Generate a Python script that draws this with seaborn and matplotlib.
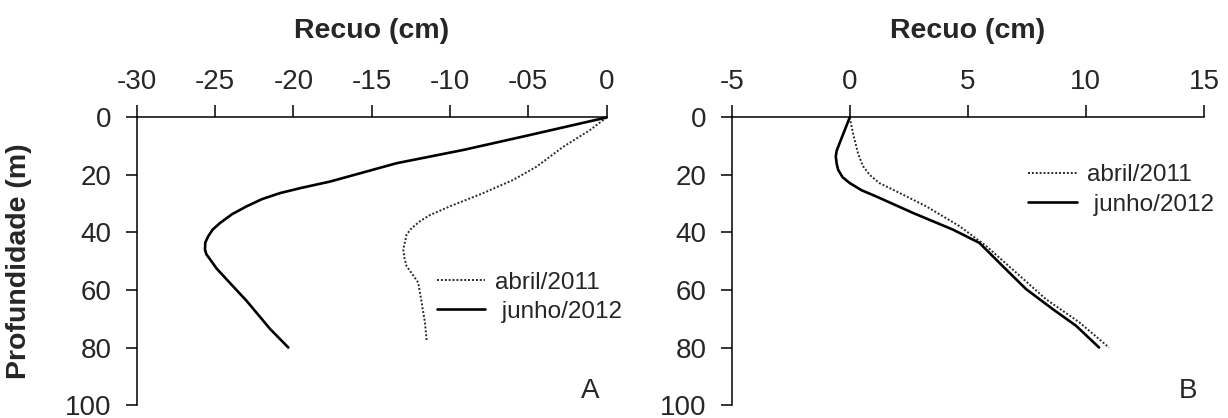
import matplotlib
matplotlib.use("Agg")
import matplotlib.pyplot as plt
import seaborn as sns
import pandas as pd

# Panel A: recuo (cm) versus profundidade (m)
a_abril_recuo = [0, -1.07, -2.77, -4.47, -5.96, -7.88, -10.0, -11.3, -11.92, -12.45,
                 -12.77, -12.98, -12.9, -12.77, -12.4, -12.03, -11.81, -11.6, -11.49]
a_abril_prof = [0, 4.4, 10.2, 17.1, 21.7, 26.3, 30.9, 34.0, 36.1, 38.5,
                40.7, 45.9, 49.0, 51.7, 54.5, 57.4, 64.3, 71.2, 77.6]
a_junho_recuo = [0, -4.9, -9.15, -13.4, -17.66, -19.5, -20.85, -22.0, -22.98, -23.9,
                 -24.68, -25.15, -25.43, -25.62, -25.64, -25.55, -25.32, -24.9,
                 -24.26, -22.98, -21.49, -20.32]
a_junho_prof = [0, 6.1, 11.3, 15.9, 22.3, 24.5, 26.3, 28.4, 30.9, 33.6,
                36.7, 39.0, 41.3, 43.5, 45.9, 47.6, 49.3, 52.5,
                56.3, 63.8, 73.5, 80.0]

# Panel B
b_abril_recuo = [0, 0.14, 0.35, 0.55, 0.85, 1.25, 1.83, 3.24, 4.65, 5.78, 7.04,
                 8.31, 9.72, 10.98]
b_abril_prof = [0, 5.5, 12.4, 16.8, 20.0, 22.8, 25.1, 30.9, 37.8, 44.7, 53.9,
                63.2, 71.2, 80.0]
b_junho_recuo = [0, -0.35, -0.55, -0.59, -0.55, -0.49, -0.3, 0, 0.5, 1.13, 2.68,
                 4.37, 5.49, 6.48, 7.47, 8.59, 9.58, 10.56]
b_junho_prof = [0, 7.3, 11.5, 13.6, 16.2, 18.2, 20.8, 22.8, 25.3, 27.5, 33.2,
                39.0, 43.6, 51.7, 59.7, 66.6, 72.4, 80.0]

series_labels = ["abril/2011", " junho/2012"]
a_xticks = [-30, -25, -20, -15, -10, -5, 0]
a_xticklabels = ["-30", "-25", "-20", "-15", "-10", "-05", "0"]
b_xticks = [-5, 0, 5, 10, 15]
b_xticklabels = ["-5", "0", "5", "10", "15"]
yticks = [0, 20, 40, 60, 80, 100]
panel_letters = ["A", "B"]

sns.set_style("white")
plt.rcParams["font.family"] = ["Liberation Sans", "DejaVu Sans"]

fig = plt.figure(figsize=(12.28, 4.18), dpi=100)
ax_bottom = 0.031
ax_height = 0.688
ax_a = fig.add_axes([0.1113, ax_bottom, 0.3827, ax_height])
ax_b = fig.add_axes([0.5958, ax_bottom, 0.3846, ax_height])

styles = [dict(color="#2a2a2a", lw=1.4, ls=(0, (1, 1))),
          dict(color="black", lw=1.9, ls="-")]


def draw(ax, curves, xticks, xticklabels, letter, leg_anchor):
    for (xs, ys), lab, st in zip(curves, series_labels, styles):
        df = pd.DataFrame({"recuo": xs, "prof": ys})
        sns.lineplot(data=df, x="recuo", y="prof", ax=ax, sort=False,
                     estimator=None, color=st["color"], linewidth=st["lw"],
                     linestyle=st["ls"], label=lab, clip_on=False)
    ax.set_xlim(xticks[0], xticks[-1])
    ax.set_ylim(100, 0)
    ax.xaxis.tick_top()
    ax.set_xticks(xticks)
    ax.set_xticklabels(xticklabels)
    ax.set_yticks(yticks)
    ax.set_yticklabels([str(v) for v in yticks])
    ax.tick_params(axis="x", direction="out", length=8.5, width=1.1,
                   pad=8, labelsize=20, color="black", top=True, bottom=False)
    ax.tick_params(axis="y", direction="out", length=8, width=1.1,
                   pad=10, labelsize=20, color="black", left=True)
    ax.set_xlabel("")
    ax.set_ylabel("")
    for side in ["bottom", "right"]:
        ax.spines[side].set_visible(False)
    for side in ["top", "left"]:
        ax.spines[side].set_color("black")
        ax.spines[side].set_linewidth(1.1)
    ax.text(0.5, 1.278, "Recuo (cm)", transform=ax.transAxes, ha="center",
            va="baseline", fontsize=20.5, fontweight="bold")
    ax.text(0.985, 0.05, letter, transform=ax.transAxes, ha="right",
            va="center", fontsize=20)
    ax.legend(loc="center left", bbox_to_anchor=leg_anchor, frameon=False,
              fontsize=17.5, handlelength=2.0, handletextpad=0.4,
              labelspacing=0.3, borderpad=0, borderaxespad=0)


draw(ax_a, [(a_abril_recuo, a_abril_prof), (a_junho_recuo, a_junho_prof)],
     a_xticks, a_xticklabels, panel_letters[0], (0.638, 0.375))
draw(ax_b, [(b_abril_recuo, b_abril_prof), (b_junho_recuo, b_junho_prof)],
     b_xticks, b_xticklabels, panel_letters[1], (0.628, 0.748))

fig.text(19 / 1228, ax_bottom + ax_height / 2, "Profundidade (m)",
         rotation=90, ha="center", va="center", fontsize=20.5, fontweight="bold")

fig.savefig("out.png", dpi=100)
